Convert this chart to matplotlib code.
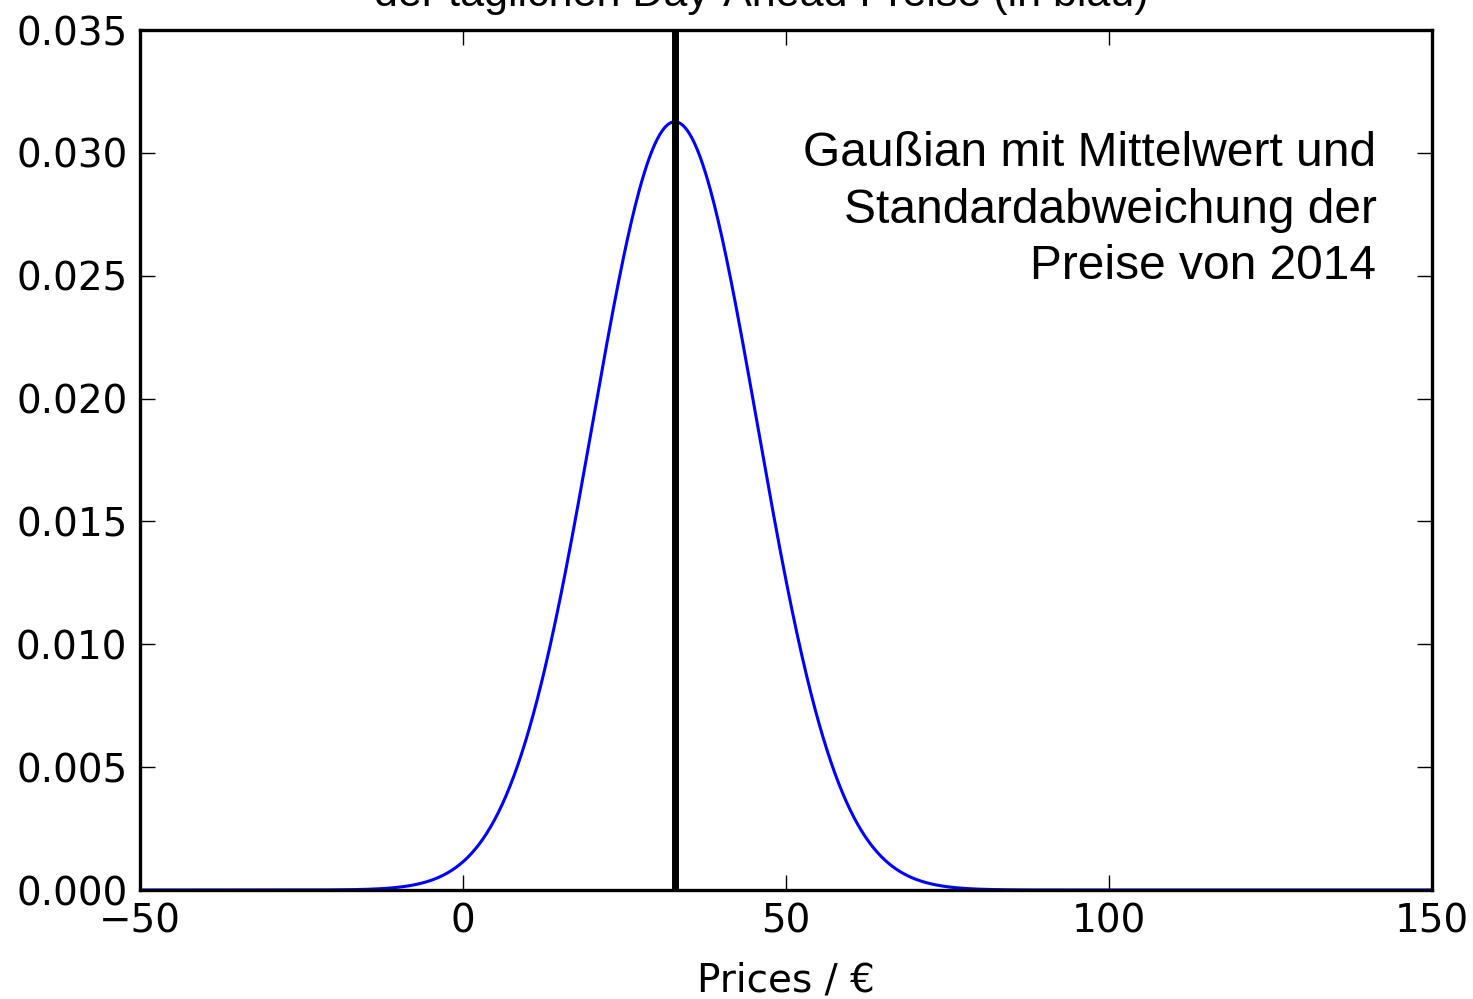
import numpy as np
import matplotlib
matplotlib.use('Agg')
import matplotlib.pyplot as plt

# Kennwerte der Day-Ahead Preise 2014
mittelwert = 32.8
standardabweichung = 12.76
x_grenzen = [-50, 150]
y_grenzen = [0, 0.035]
x_ticks = [-50, 0, 50, 100, 150]
y_ticks = [0.000, 0.005, 0.010, 0.015, 0.020, 0.025, 0.030, 0.035]

# Normalverteilung aus Mittelwert und Standardabweichung
preise = np.linspace(x_grenzen[0], x_grenzen[1], 1000)
dichte = np.exp(-0.5 * ((preise - mittelwert) / standardabweichung) ** 2) / (standardabweichung * np.sqrt(2 * np.pi))

fig = plt.figure(figsize=(14.73, 9.99), dpi=100)
ax = fig.add_axes([140 / 1473, 1 - 890 / 999, 1292 / 1473, 860 / 999])

ax.plot(preise, dichte, color='blue', lw=2.2)
ax.axvline(mittelwert, color='black', lw=5)

ax.set_xlim(x_grenzen)
ax.set_ylim(y_grenzen)
ax.set_xticks(x_ticks)
ax.set_yticks(y_ticks)
ax.set_xticklabels(['\u221250', '0', '50', '100', '150'])
ax.set_yticklabels(['%.3f' % v for v in y_ticks])
ax.tick_params(direction='in', length=11, width=1, top=True, right=True,
               labelsize=28, pad=9)
for s in ax.spines.values():
    s.set_linewidth(2.4)

ax.set_xlabel('Prices / \u20ac', fontsize=28, labelpad=15)

ax.text(0.957, 0.883, 'Gaußian mit Mittelwert und\nStandardabweichung der\nPreise von 2014',
        transform=ax.transAxes, ha='right', va='top', fontsize=34.5,
        family='Liberation Sans', linespacing=1.34)

fig.text(761 / 1473, 1 - 15 / 999, 'Verteilungsfunktion\nder täglichen Day-Ahead Preise (in blau)',
         ha='center', va='bottom', fontsize=31, family='Liberation Sans',
         linespacing=1.33, multialignment='center')

fig.savefig('out.png', dpi=100)
